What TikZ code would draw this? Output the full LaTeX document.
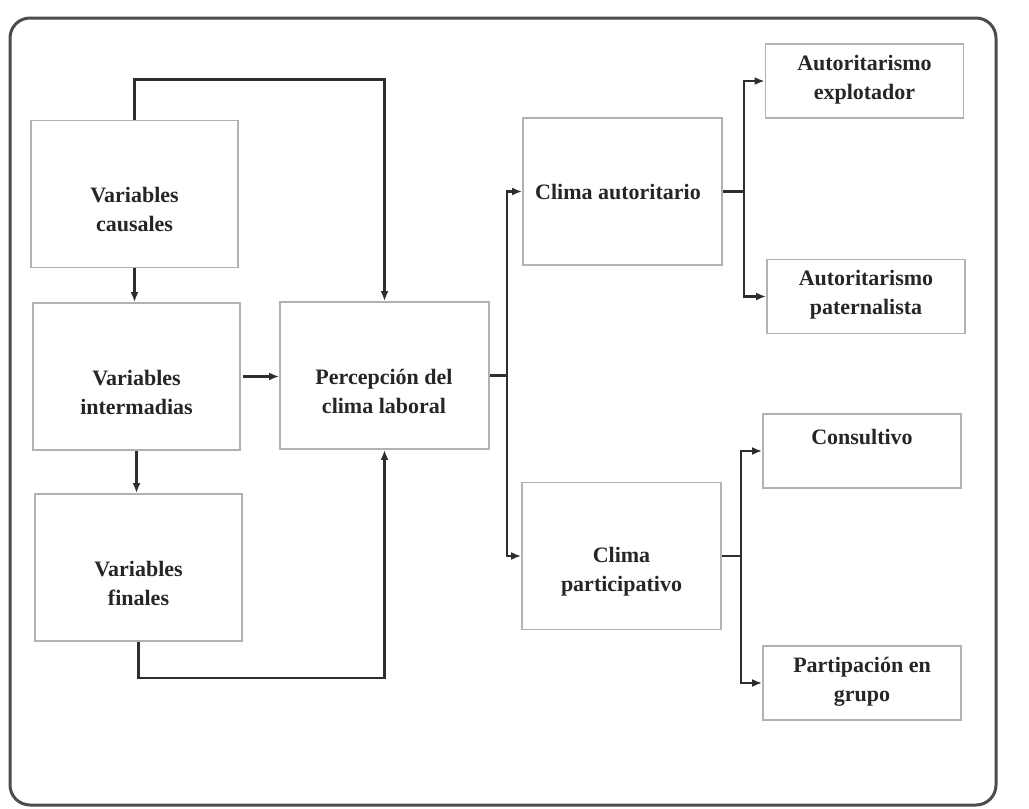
\documentclass[tikz,border=0pt]{standalone}
\usepackage{fontspec}
\setmainfont{Liberation Serif}
\usetikzlibrary{arrows.meta}

\tikzset{
  caja/.style={draw=black!30, line width=1.8pt, minimum width=207pt, minimum height=147pt, inner sep=0pt},
  cajachica/.style={caja, minimum width=198pt, minimum height=74pt},
  texto/.style={align=center, text=black!85, font=\fontsize{22}{29}\selectfont\bfseries, inner sep=0pt},
  linea/.style={draw=black!82, line width=2.6pt},
  flecha/.style={linea, -{Latex[length=10pt,width=8pt]}}
}

\begin{document}
\begin{tikzpicture}[x=1pt,y=-1pt]
\useasboundingbox (0,0) rectangle (1029,809);
\draw[line width=3pt, draw=black!70, rounded corners=20pt] (10,18) rectangle (996,805);
\node[caja] (causales) at (134.5,194) {};
\node[caja] (intermedias) at (136.5,376.5) {};
\node[caja] (finales) at (138.5,567.5) {};
\node[caja, minimum width=209pt] (percepcion) at (384.5,375.5) {};
\node[caja, minimum width=199pt] (autoritario) at (622.5,191.5) {};
\node[caja, minimum width=199pt] (participativo) at (621.5,556) {};
\node[cajachica] (explotador) at (864.5,81) {};
\node[cajachica] (paternalista) at (866,296.5) {};
\node[cajachica] (consultivo) at (862,451) {};
\node[cajachica] (grupo) at (862,683) {};
\node[texto] (t-causales) at (134.5,209) {Variables\\causales};
\node[texto] (t-intermedias) at (136.5,392) {Variables\\intermadias};
\node[texto] (t-finales) at (138.5,583) {Variables\\finales};
\node[texto] (t-percepcion) at (384,391) {Percepción del\\clima laboral};
\node[texto] (t-autoritario) at (618,192) {Clima autoritario};
\node[texto] (t-participativo) at (621.5,572) {Clima\\participativo};
\node[texto] (t-explotador) at (864.5,80) {Autoritarismo\\explotador};
\node[texto] (t-paternalista) at (866,295) {Autoritarismo\\paternalista};
\node[texto] (t-consultivo) at (862,437) {Consultivo};
\node[texto] (t-grupo) at (862,682) {Partipación en\\grupo};
\draw[flecha] (causales.north) -- ++(0,-40) -| (percepcion.north);
\draw[flecha] (causales.south) -- (causales.south |- intermedias.north);
\draw[flecha] (intermedias.south) -- (intermedias.south |- finales.north);
\draw[flecha] ([xshift=2pt]intermedias.east) -- (intermedias.east -| percepcion.west);
\draw[flecha] (finales.south) -- ++(0,36) -| (percepcion.south);
\draw[linea] (percepcion.east) -- ++(17,0) coordinate (rama1);
\draw[flecha] (rama1) |- (autoritario.west);
\draw[flecha] (rama1) |- (participativo.west);
\draw[linea] (autoritario.east) -- ++(21,0) coordinate (rama2);
\draw[flecha] (rama2) |- (explotador.west);
\draw[flecha] (rama2) |- (paternalista.west);
\draw[linea] (participativo.east) -- ++(19,0) coordinate (rama3);
\draw[flecha] (rama3) |- (consultivo.west);
\draw[flecha] (rama3) |- (grupo.west);
\end{tikzpicture}
\end{document}
